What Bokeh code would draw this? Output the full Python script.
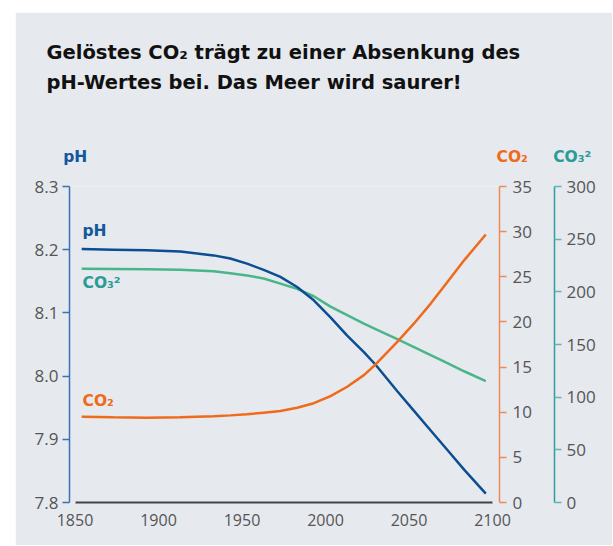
from bokeh.plotting import figure
from bokeh.models import Range1d, LinearAxis, FixedTicker, Label, PrintfTickFormatter
from bokeh.embed import file_html
from bokeh.resources import INLINE

# ---- data ----
years = [1854, 1873, 1893, 1913, 1933, 1943, 1953, 1963, 1973, 1983, 1993, 2003, 2013, 2023, 2030, 2043, 2053, 2063, 2073, 2083, 2096]
ph = [8.201, 8.200, 8.199, 8.197, 8.191, 8.186, 8.178, 8.168, 8.157, 8.141, 8.120, 8.093, 8.064, 8.038, 8.018, 7.976, 7.945, 7.914, 7.883, 7.852, 7.814]
co2 = [9.50, 9.44, 9.39, 9.44, 9.55, 9.65, 9.77, 9.95, 10.13, 10.50, 11.0, 11.79, 12.82, 14.11, 15.29, 17.79, 19.83, 22.03, 24.42, 26.82, 29.69]
co3 = [222.0, 221.7, 221.4, 220.9, 219.5, 217.7, 215.6, 212.6, 207.8, 202.8, 195.8, 186.0, 177.9, 169.9, 164.6, 155.1, 147.5, 139.9, 132.3, 124.6, 115.3]

year_ticks = [1850, 1900, 1950, 2000, 2050, 2100]
ph_ticks = [7.8, 7.9, 8.0, 8.1, 8.2, 8.3]
co2_ticks = [0, 5, 10, 15, 20, 25, 30, 35]
co3_ticks = [0, 50, 100, 150, 200, 250, 300]

title_lines = ["Gelöstes CO₂ trägt zu einer Absenkung des", "pH-Wertes bei. Das Meer wird saurer!"]
axis_titles = ["pH", "CO₂", "CO₃²"]
series_labels = ["pH", "CO₃²", "CO₂"]

BG = "#e6e9ee"
PH_LINE = "#0b4e91"
PH_AXIS = "#3b73b0"
PH_TEXT = "#14579b"
CO2_LINE = "#ef6a1a"
CO2_AXIS = "#ef8a58"
CO3_LINE = "#4bb58a"
CO3_AXIS = "#2f9f9c"
CO3_TEXT = "#2a9b97"
TICK_TEXT = "#555555"
TFONT = "Open Sans"
LFONT = "DejaVu Sans"

X0, X1 = 1846.7, 2104.2
Y0, Y1 = 7.8, 8.3
OX, OY = 15, 12          # figure offset on the page
W, H = 597, 533
FL, FR, FT, FB = 69, 499, 186, 502   # frame edges in page pixels
BASE_FIX = 7             # label anchor correction (px)

p = figure(width=W, height=H, x_range=Range1d(X0, X1), y_range=Range1d(Y0, Y1),
           output_backend="svg", toolbar_location=None,
           min_border_left=FL - OX, min_border_top=FT - OY,
           min_border_bottom=H - (FB - OY), min_border_right=W - (FR - OX),
           background_fill_color=BG, border_fill_color=BG, outline_line_color=None,
           styles={"margin-left": f"{OX}px", "margin-top": f"{OY}px"})
p.grid.visible = False
p.extra_y_ranges = {"co2": Range1d(0, 35), "co3": Range1d(0, 300)}

# helpers: page pixel -> data units (text placement only)
def dx(px):
    return X0 + (px - FL) * (X1 - X0) / (FR - FL)

def dy(py):
    return Y0 + (FB - (py - BASE_FIX)) * (Y1 - Y0) / (FB - FT)

# x axis
xa = p.xaxis[0]
xa.ticker = FixedTicker(ticks=year_ticks)
xa.bounds = (year_ticks[0], year_ticks[-1])
xa.axis_line_color = "#454545"
xa.axis_line_width = 2
xa.major_tick_line_color = None
xa.minor_tick_line_color = None
xa.major_tick_out = 0
xa.major_tick_in = 0
xa.major_label_standoff = 11
xa.major_label_text_font = TFONT
xa.major_label_text_font_size = "16px"
xa.major_label_text_color = TICK_TEXT

# pH axis (left)
ya = p.yaxis[0]
ya.ticker = FixedTicker(ticks=ph_ticks)
ya.formatter = PrintfTickFormatter(format="%.1f")
ya.axis_line_color = PH_AXIS
ya.axis_line_width = 1.5
ya.major_tick_line_color = PH_AXIS
ya.major_tick_line_width = 1.5
ya.minor_tick_line_color = None
ya.major_tick_out = 7
ya.major_tick_in = 0
ya.major_label_standoff = 4
ya.major_label_text_font = TFONT
ya.major_label_text_font_size = "17px"
ya.major_label_text_color = TICK_TEXT

# CO2 axis (right, inner)
a2 = LinearAxis(y_range_name="co2", ticker=FixedTicker(ticks=co2_ticks))
a2.axis_line_color = CO2_AXIS
a2.axis_line_width = 1.5
a2.major_tick_line_color = CO2_AXIS
a2.major_tick_line_width = 1.5
a2.minor_tick_line_color = None
a2.major_tick_out = 7
a2.major_tick_in = 0
a2.major_label_standoff = 6
a2.major_label_text_font = TFONT
a2.major_label_text_font_size = "17px"
a2.major_label_text_color = TICK_TEXT
a2.axis_label = " "
a2.axis_label_text_font_size = "10px"
a2.axis_label_standoff = 6
p.add_layout(a2, "right")

# CO3 axis (right, outer)
a3 = LinearAxis(y_range_name="co3", ticker=FixedTicker(ticks=co3_ticks))
a3.axis_line_color = CO3_AXIS
a3.axis_line_width = 1.5
a3.major_tick_line_color = "#5cb8b6"
a3.major_tick_line_width = 1.5
a3.minor_tick_line_color = None
a3.major_tick_out = 7
a3.major_tick_in = 0
a3.major_label_standoff = 5
a3.major_label_text_font = TFONT
a3.major_label_text_font_size = "17px"
a3.major_label_text_color = TICK_TEXT
p.add_layout(a3, "right")

# data lines
p.line(years, co3, y_range_name="co3", line_color=CO3_LINE, line_width=2.5)
p.line(years, ph, line_color=PH_LINE, line_width=2.5)
p.line(years, co2, y_range_name="co2", line_color=CO2_LINE, line_width=2.5)

def lab(px, py, text, color, size="15.5px", place="center"):
    lbl = Label(x=dx(px), y=dy(py), text=text, text_font=LFONT, text_font_style="bold",
                text_font_size=size, text_color=color, text_baseline="alphabetic")
    if place == "center":
        p.add_layout(lbl)
    else:
        p.add_layout(lbl, place)

# in-chart series labels
lab(82, 237, series_labels[0], PH_TEXT)
lab(82, 289, series_labels[1], CO3_TEXT)
lab(82, 407, series_labels[2], CO2_LINE)

# axis titles and chart title (placed in the top panel so they are not clipped)
lab(62.7, 163, axis_titles[0], PH_TEXT, place="above")
lab(496, 163, axis_titles[1], CO2_LINE, place="above")
lab(552.7, 163, axis_titles[2], CO3_TEXT, place="above")
for i, line in enumerate(title_lines):
    lab(46, 59 + 30 * i, line, "#111111", size="19.5px", place="above")

open("out.html", "w").write(file_html(p, INLINE))
